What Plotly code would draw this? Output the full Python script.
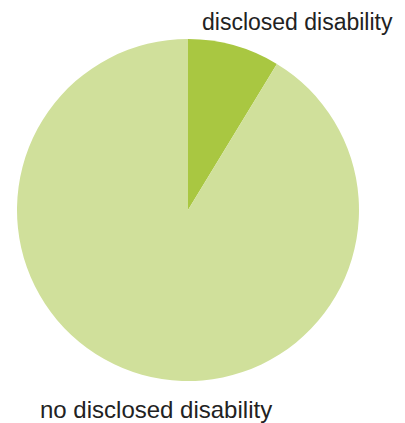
import plotly.graph_objects as go

labels = ["disclosed disability", "no disclosed disability"]
values = [8.7, 91.3]
colors = ["#a9c741", "#d0e09b"]

# page has an 8px body margin, so figure coordinates = reference - 8
W, H = 397, 415
cx, cy, r = 180, 202, 171

fig = go.Figure(go.Pie(
    labels=labels,
    values=values,
    sort=False,
    direction="clockwise",
    rotation=0,
    marker=dict(colors=colors, line=dict(width=0)),
    textinfo="none",
    hoverinfo="label+percent",
    domain=dict(x=[(cx - r) / W, (cx + r) / W], y=[(H - cy - r) / H, (H - cy + r) / H]),
))

font_top = dict(family="Liberation Sans, Arial, sans-serif", size=23, color="#222222")
font_bot = dict(family="Liberation Sans, Arial, sans-serif", size=24, color="#222222")
fig.add_annotation(text=labels[0], x=192 / W, y=1 - 14 / H, xref="paper", yref="paper",
                   xanchor="left", yanchor="middle", showarrow=False, font=font_top)
fig.add_annotation(text=labels[1], x=30 / W, y=1 - 401 / H, xref="paper", yref="paper",
                   xanchor="left", yanchor="middle", showarrow=False, font=font_bot)

fig.update_layout(
    width=W, height=H,
    margin=dict(l=0, r=0, t=0, b=0),
    showlegend=False,
    paper_bgcolor="white",
    plot_bgcolor="white",
)

fig.write_html("out.html")
